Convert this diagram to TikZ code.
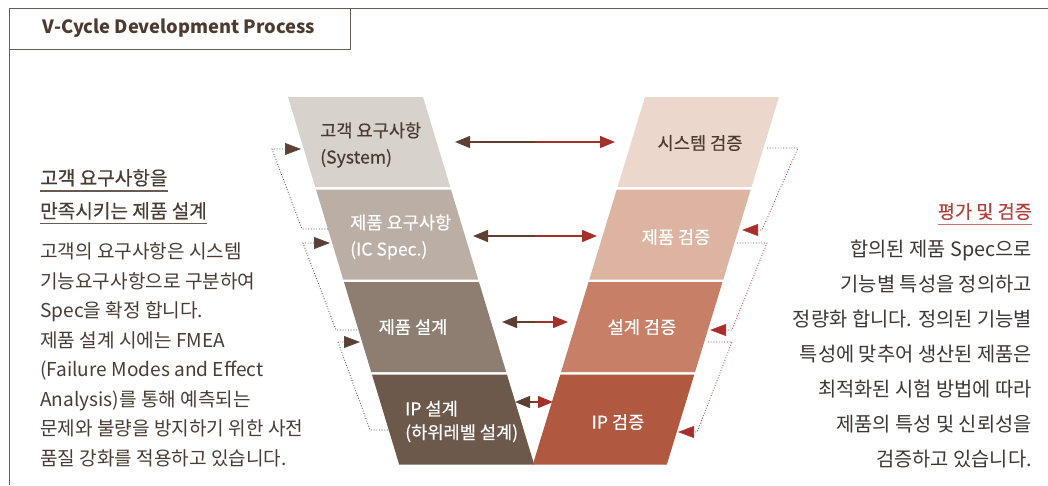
\documentclass[tikz,border=0pt]{standalone}
\usepackage{fontspec}
\setmainfont{Noto Sans CJK KR}
\newfontfamily\medfont{Noto Sans CJK KR}[FakeBold=0.35]
\usetikzlibrary{arrows.meta}
\definecolor{framec}{HTML}{6A5A50}
\definecolor{titlec}{HTML}{4E3B30}
\definecolor{txtl}{HTML}{4A3C34}
\definecolor{txtr}{HTML}{3E3835}
\definecolor{headr}{HTML}{B2403A}
\definecolor{headrline}{HTML}{C9716A}
\definecolor{cLa}{HTML}{D7D2CC}
\definecolor{cLb}{HTML}{BBAFA5}
\definecolor{cLc}{HTML}{8E7E71}
\definecolor{cLd}{HTML}{6D594B}
\definecolor{cRa}{HTML}{EBD7CB}
\definecolor{cRb}{HTML}{DDB4A1}
\definecolor{cRc}{HTML}{C78067}
\definecolor{cRd}{HTML}{B15840}
\definecolor{arrb}{HTML}{5D4033}
\definecolor{arrr}{HTML}{A5302A}
\definecolor{ldotc}{HTML}{5A4A40}
\definecolor{rdotc}{HTML}{B9333A}
\definecolor{blkdark}{HTML}{4A3A30}
\newcommand\vleftblk[3]{\fill[#3] ({288+0.3025*(#1-97)},#1) -- ({423+0.3025*(#1-97)},#1) -- ({423+0.3025*(#2-97)},#2) -- ({288+0.3025*(#2-97)},#2) -- cycle;}
\newcommand\vrightblk[3]{\fill[#3] ({645-0.3052*(#1-97)},#1) -- ({779-0.3052*(#1-97)},#1) -- ({779-0.3052*(#2-97)},#2) -- ({645-0.3052*(#2-97)},#2) -- cycle;}
\tikzset{
  ltext/.style={inner sep=0pt, text=txtl, font=\fontsize{19.1}{28}\selectfont},
  lhead/.style={inner sep=0pt, text=txtl, font=\fontsize{19.1}{28}\selectfont\medfont},
  rtext/.style={inner sep=0pt, text=txtr, font=\fontsize{19.8}{35}\selectfont},
  blktext/.style={inner sep=0pt, font=\fontsize{17.6}{26.5}\selectfont\medfont},
  harrb/.style={draw=arrb, line width=1.4pt, -{Triangle[length=15pt,width=12pt]}},
  harrr/.style={draw=arrr, line width=1.4pt, -{Triangle[length=15pt,width=12pt]}},
  ldot/.style={draw=ldotc, line width=0.8pt, dash pattern=on 0.9pt off 1.8pt, -{Triangle[length=16pt,width=12pt,fill=arrb]}},
  rdot/.style={draw=rdotc, line width=0.8pt, dash pattern=on 0.9pt off 1.8pt, -{Triangle[length=16pt,width=12pt,fill=arrr]}}
}
\begin{document}
\begin{tikzpicture}[x=1pt,y=-1pt]
\useasboundingbox (0,0) rectangle (1048,485);
% frame
\draw[framec, line width=1pt] (1048,8) -- (9,8) -- (9,485);
\draw[framec, line width=1pt] (9,49) -- (350,49) -- (350,8);
\node[inner sep=0pt, text=titlec, font=\fontsize{18.3}{23}\selectfont\bfseries] (title) at (179,28.5) {V-Cycle Development Process};
% V blocks
\vleftblk{97}{187}{cLa}
\vleftblk{189.5}{279.5}{cLb}
\vleftblk{282}{372}{cLc}
\vleftblk{374.5}{464.5}{cLd}
\vrightblk{97}{187}{cRa}
\vrightblk{189.5}{279.5}{cRb}
\vrightblk{282}{372}{cRc}
\vrightblk{374.5}{464.5}{cRd}
% block texts
\node[blktext, text=blkdark, anchor=west, align=left] (la) at (320,145) {고객 요구사항\\(System)};
\node[blktext, text=white, anchor=west, align=left] (lb) at (350,237) {제품 요구사항\\(IC Spec.)};
\node[blktext, text=white] (lc) at (413,327) {제품 설계};
\node[blktext, text=white, anchor=west, align=left, font=\fontsize{17.6}{23.5}\selectfont\medfont] (ld) at (405,421.5) {IP 설계\\(하위레벨 설계)};
\node[blktext, text=blkdark] (ra) at (700,143) {시스템 검증};
\node[blktext, text=white] (rb) at (676,237) {제품 검증};
\node[blktext, text=white] (rc) at (642,327) {설계 검증};
\node[blktext, text=white] (rd) at (618,422) {IP 검증};
% horizontal arrows
\coordinate (h1l) at (455,142); \coordinate (h1r) at (615,142); \coordinate (h1m) at (535,142);
\coordinate (h2l) at (473,236); \coordinate (h2r) at (597,236); \coordinate (h2m) at (535,236);
\coordinate (h3l) at (502,322); \coordinate (h3r) at (568,322); \coordinate (h3m) at (535,322);
\coordinate (h4l) at (515,402); \coordinate (h4r) at (553,402); \coordinate (h4m) at (534,402);
\draw[harrb] (h1m) -- (h1l); \draw[harrr] (h1m) -- (h1r);
\draw[harrb] (h2m) -- (h2l); \draw[harrr] (h2m) -- (h2r);
\draw[harrb] (h3m) -- (h3l); \draw[harrr] (h3m) -- (h3r);
\draw[harrb] (h4m) -- (h4l); \draw[harrr] (h4m) -- (h4r);
% left dotted feedback
\coordinate (fa0) at (328,229); \coordinate (fa1) at (302,229); \coordinate (fa2) at (272,149); \coordinate (fa3) at (301,149);
\coordinate (fb0) at (357,330); \coordinate (fb1) at (336,330); \coordinate (fb2) at (303,243); \coordinate (fb3) at (330,243);
\coordinate (fc0) at (388,430); \coordinate (fc1) at (370,430); \coordinate (fc2) at (338,342); \coordinate (fc3) at (360,342);
\draw[ldot] (fa0) -- (fa1) -- (fa2) -- (fa3);
\draw[ldot] (fb0) -- (fb1) -- (fb2) -- (fb3);
\draw[ldot] (fc0) -- (fc1) -- (fc2) -- (fc3);
% right dotted feedback
\coordinate (ga0) at (767,148); \coordinate (ga1) at (798,148); \coordinate (ga2) at (762,230); \coordinate (ga3) at (742,230);
\coordinate (gb0) at (737,243); \coordinate (gb1) at (767,243); \coordinate (gb2) at (732,330); \coordinate (gb3) at (710,330);
\coordinate (gc0) at (708,342); \coordinate (gc1) at (732,342); \coordinate (gc2) at (697,432); \coordinate (gc3) at (678,432);
\draw[rdot] (ga0) -- (ga1) -- (ga2) -- (ga3);
\draw[rdot] (gb0) -- (gb1) -- (gb2) -- (gb3);
\draw[rdot] (gc0) -- (gc1) -- (gc2) -- (gc3);
% left text
\node[lhead, anchor=base west] (lh1) at (40,185) {고객 요구사항을};
\node[lhead, anchor=base west] (lh2) at (40,218) {만족시키는 제품 설계};
\draw[framec, line width=1.2pt] (lh1.west |- 0,191) -- (lh1.east |- 0,191);
\draw[framec, line width=1.2pt] (lh2.west |- 0,223.5) -- (lh2.east |- 0,223.5);
\node[ltext, anchor=base west] (lt1) at (40,258.5) {고객의 요구사항은 시스템};
\node[ltext, anchor=base west] (lt2) at (40,288) {기능요구사항으로 구분하여};
\node[ltext, anchor=base west] (lt3) at (40,317.5) {Spec을 확정 합니다.};
\node[ltext, anchor=base west] (lt4) at (40,347) {제품 설계 시에는 FMEA};
\node[ltext, anchor=base west] (lt5) at (40,376.5) {(Failure Modes and Effect};
\node[ltext, anchor=base west] (lt6) at (40,406) {Analysis)를 통해 예측되는};
\node[ltext, anchor=base west] (lt7) at (40,435.5) {문제와 불량을 방지하기 위한 사전};
\node[ltext, anchor=base west] (lt8) at (40,465) {품질 강화를 적용하고 있습니다.};
% right text
\node[inner sep=0pt, text=headr, font=\fontsize{18.6}{22}\selectfont\medfont, anchor=base east] (rh) at (1032,218.5) {평가 및 검증};
\draw[headrline, line width=1.4pt] (rh.west |- 0,224.5) -- (rh.east |- 0,224.5);
\node[rtext, anchor=base east] (rt1) at (1032,256.2) {합의된 제품 Spec으로};
\node[rtext, anchor=base east] (rt2) at (1032,291.2) {기능별 특성을 정의하고};
\node[rtext, anchor=base east] (rt3) at (1032,326.2) {정량화 합니다. 정의된 기능별};
\node[rtext, anchor=base east] (rt4) at (1032,361.2) {특성에 맞추어 생산된 제품은};
\node[rtext, anchor=base east] (rt5) at (1032,396.2) {최적화된 시험 방법에 따라};
\node[rtext, anchor=base east] (rt6) at (1032,431.2) {제품의 특성 및 신뢰성을};
\node[rtext, anchor=base east] (rt7) at (1032,466.2) {검증하고 있습니다.};
\end{tikzpicture}
\end{document}
